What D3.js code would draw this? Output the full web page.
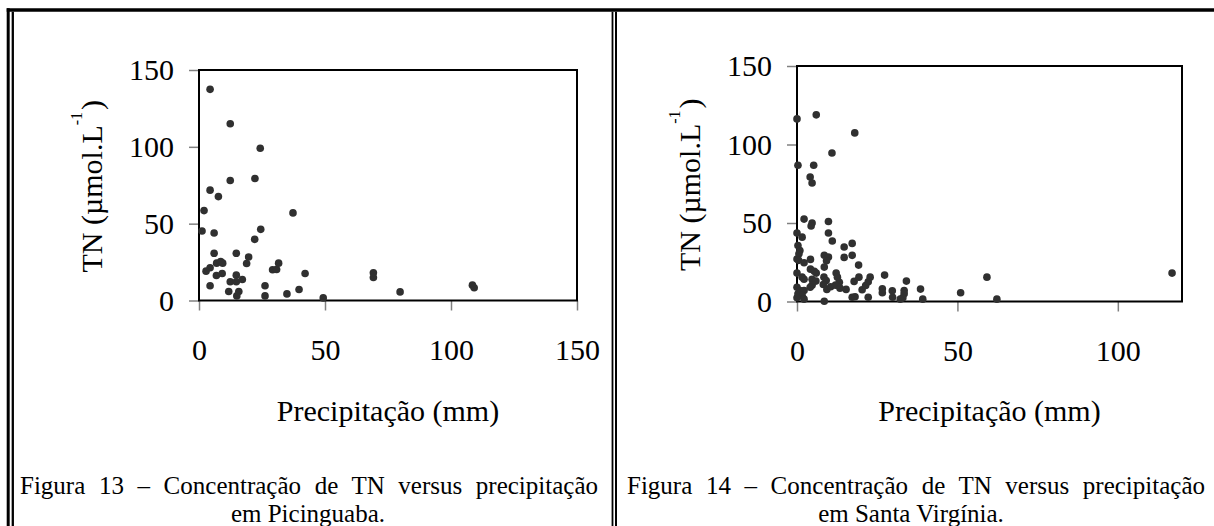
<!DOCTYPE html>
<html>
<head>
<meta charset="utf-8">
<script src="https://cdn.jsdelivr.net/npm/d3@7"></script>
<style>
  body { margin: 0; background: #fff; }
  svg { display: block; }
</style>
</head>
<body>
<div id="chart"></div>
<script>
// DATA
const yTicks = [0, 50, 100, 150];
const xTicksPic = [0, 50, 100, 150];
const xTicksSv = [0, 50, 100];

// Figura 13 - Picinguaba: precipitação (mm) / TN (µmol/L)
const picX = [4.4, 12.4, 24.3, 12.4, 22.2, 4.4, 7.7, 2.0, 37.3, 1.2, 6.0, 24.5, 22.1, 6.0, 14.8, 19.7, 18.9,
    7.0, 8.6, 9.4, 4.4, 2.8, 31.6, 29.2, 30.8, 6.9, 9.2, 14.8, 42.1, 69.2, 69.2, 12.4, 14.8, 17.2, 4.4,
    26.2, 11.8, 15.8, 15.0, 26.2, 34.9, 39.7, 49.3, 79.8, 108.5, 109.2];
const picY = [137.4, 115, 99.1, 78.1, 79.4, 71.8, 67.6, 58.5, 57, 45.2, 43.9, 46.3, 39.8, 30.7, 30.7, 28.3, 24.1,
    24.3, 25.4, 24.3, 21.3, 19.1, 24.3, 20, 20.2, 16.3, 17.6, 16.5, 17.6, 18.1, 15, 12.2, 12.2, 13.7, 9.6,
    9.6, 5.9, 5.9, 3.0, 3.0, 4.3, 7.2, 1.7, 5.6, 10, 8.3];

// Figura 14 - Santa Virgínia
const svX = [0, 6.0, 18, 10.9, 0.3, 5.2, 4.1, 4.7, 2.2, 4.7, 4.4, 9.8, 9.8, 11, 0, 1.6, 0.3, 0.9, 0.6, 14.7,
    17.2, 14.7, 17.2, 8.5, 9.8, 9.2, 19.2, 0, 0.5, 2.2, 4.2, 8.5, 4.2, 5.4, 6.0, 0, 1.6, 2.2, 12.2, 12.6,
    13.2, 4.7, 5.9, 4.7, 8.4, 9.1, 8.2, 9.3, 10.5, 12.0, 13.4, 15.3, 4.1, 0, 0.9, 2.2, 0.3, 1.6, 0, 2.2,
    8.5, 17.8, 19.3, 22.8, 20.3, 21.4, 22.2, 17.2, 18.1, 22.2, 27.3, 26.6, 26.6, 29.8, 29.7, 34.1, 33.4,
    33.4, 33.0, 32.2, 38.5, 39.2, 51.0, 59.2, 62.3, 116.9];
const svY = [116.3, 118.9, 107.4, 94.6, 86.8, 86.8, 79.3, 75.5, 52.5, 50, 48.1, 51, 43.6, 38.5, 43.6, 41, 35.7,
    32.5, 30.4, 34.7, 37, 28.1, 29.4, 29.5, 28.3, 26, 23.2, 27, 26.2, 24.7, 26.8, 21.9, 20.6, 19.3, 18.1,
    18.1, 15.5, 14.2, 18.1, 15.5, 12.3, 14.2, 13, 10.4, 15.5, 13.4, 10.8, 7.7, 9.4, 10.4, 8.5, 7.7, 9.1,
    9.1, 7.0, 7.0, 4.9, 3.8, 2.4, 1.5, 0.2, 12.8, 15.5, 15.5, 7.5, 10.2, 12.6, 2.7, 3.0, 2.7, 16.8, 8.1,
    5.6, 2.7, 6.8, 13, 7.0, 4.9, 2.4, 1.5, 7.9, 1.5, 5.6, 15.5, 1.5, 18.1];

const xTitle = "Precipitação (mm)";
const captionsPic = ["Figura 13 – Concentração de TN versus precipitação", "em Picinguaba."];
const captionsSv = ["Figura 14 – Concentração de TN versus precipitação", "em Santa Virgínia."];

const FONT = "'Liberation Serif', 'Times New Roman', Times, serif";

const svg = d3.select("#chart").append("svg")
    .attr("width", 1214)
    .attr("height", 526)
    .attr("font-family", FONT);

// Table borders (double lines left and in the middle)
const borders = svg.append("g").attr("stroke", "#000").attr("fill", "none");
borders.append("line").attr("x1", 6.7).attr("x2", 1214).attr("y1", 10).attr("y2", 10).attr("stroke-width", 3.4);
borders.append("line").attr("x1", 8.2).attr("x2", 8.2).attr("y1", 8.3).attr("y2", 526).attr("stroke-width", 3);
borders.append("line").attr("x1", 12.8).attr("x2", 12.8).attr("y1", 11.7).attr("y2", 526).attr("stroke-width", 2.3);
borders.append("line").attr("x1", 612.5).attr("x2", 612.5).attr("y1", 11.7).attr("y2", 526).attr("stroke-width", 1.8);
borders.append("line").attr("x1", 616).attr("x2", 616).attr("y1", 11.7).attr("y2", 526).attr("stroke-width", 2);

function drawPanel(opt) {
    const x = d3.scaleLinear().domain(opt.xDomain).range([opt.left, opt.right]);
    const y = d3.scaleLinear().domain([0, 150]).range([opt.bottom, opt.top]);
    const g = svg.append("g");

    // axes
    const yAxis = g.append("g")
        .attr("transform", `translate(${opt.left},0)`)
        .call(d3.axisLeft(y).tickValues(yTicks).tickSize(10).tickPadding(15));
    const xAxis = g.append("g")
        .attr("transform", `translate(0,${opt.bottom})`)
        .call(d3.axisBottom(x).tickValues(opt.xTicks).tickSize(10).tickPadding(28));

    [yAxis, xAxis].forEach(a => {
        a.attr("font-family", FONT).attr("font-size", 30);
        a.select(".domain").remove();
        a.selectAll(".tick line").attr("stroke", "#808080").attr("stroke-width", 1.5);
        a.selectAll(".tick text").attr("fill", "#000");
    });

    // plot frame
    g.append("rect")
        .attr("x", opt.left).attr("y", opt.top)
        .attr("width", opt.right - opt.left).attr("height", opt.bottom - opt.top)
        .attr("fill", "none").attr("stroke", "#000").attr("stroke-width", 2);

    // points
    g.append("g").selectAll("circle")
        .data(d3.zip(opt.xs, opt.ys))
        .join("circle")
        .attr("cx", d => x(d[0]))
        .attr("cy", d => y(d[1]))
        .attr("r", 3.8)
        .attr("fill", "#303030");

    // x title
    g.append("text")
        .attr("x", (opt.left + opt.right) / 2)
        .attr("y", 421)
        .attr("text-anchor", "middle")
        .attr("font-size", 30)
        .text(xTitle);

    // y title with superscript
    const yt = g.append("text")
        .attr("transform", `translate(${opt.yTitleX},${(opt.top + opt.bottom) / 2 + 1}) rotate(-90)`)
        .attr("text-anchor", "middle")
        .attr("font-size", 30);
    yt.append("tspan").text("TN (µmol.L");
    yt.append("tspan").attr("font-size", 16).attr("dy", -20).text("-1");
    yt.append("tspan").attr("dy", 20).attr("dx", 2).text(")");

    // caption: first line justified through word spacing, second centred
    const cap = g.append("g").attr("font-size", 25).attr("fill", "#000");
    const line1 = cap.append("text").attr("x", opt.capLeft).attr("y", 494).text(opt.caption[0]);
    const natural = line1.node().getComputedTextLength();
    const nSpaces = opt.caption[0].split(" ").length - 1;
    line1.attr("word-spacing", (opt.capRight - opt.capLeft - natural) / nSpaces);
    cap.append("text")
        .attr("x", opt.cap2Center).attr("y", 522)
        .attr("text-anchor", "middle")
        .text(opt.caption[1]);
}

drawPanel({
    xDomain: [0, 150], xTicks: xTicksPic, xs: picX, ys: picY,
    left: 199, right: 577, top: 70, bottom: 300.5,
    yTitleX: 102, caption: captionsPic, capLeft: 20, capRight: 598, cap2Center: 308
});

drawPanel({
    xDomain: [0, 120], xTicks: xTicksSv, xs: svX, ys: svY,
    left: 797, right: 1182, top: 66, bottom: 301.5,
    yTitleX: 700, caption: captionsSv, capLeft: 627, capRight: 1205, cap2Center: 911
});
</script>
</body>
</html>
